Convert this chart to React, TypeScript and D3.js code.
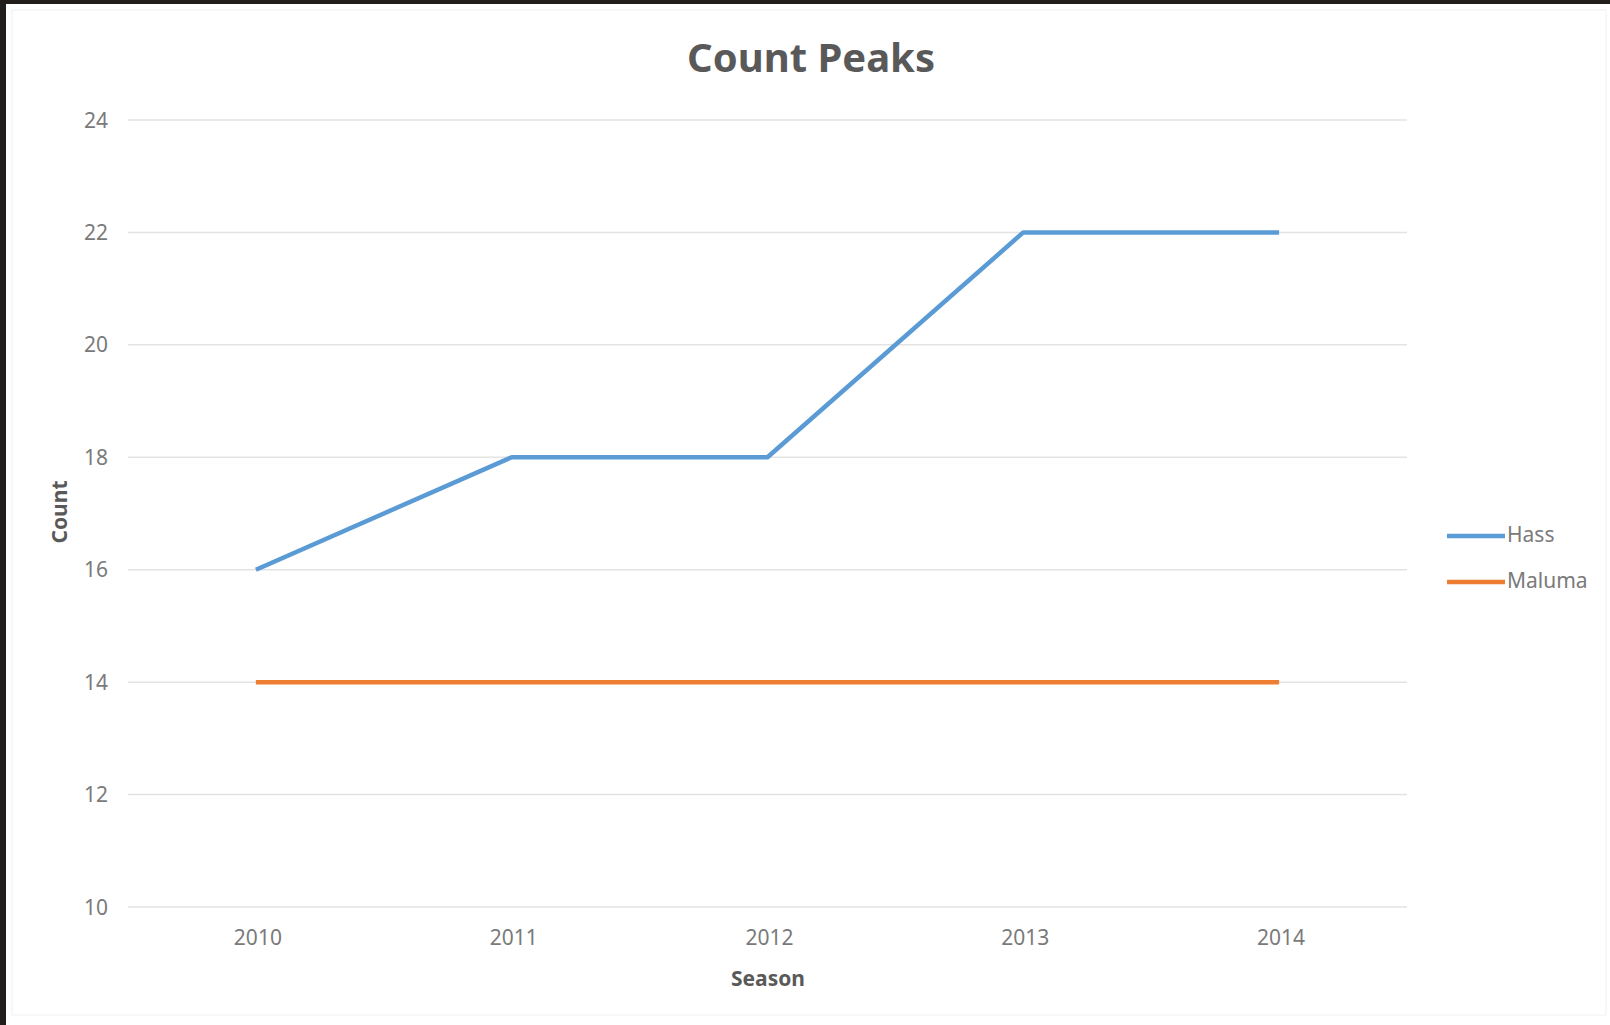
import React, { useEffect, useRef } from 'react';
import * as d3 from 'd3';

const seasons = ['2010', '2011', '2012', '2013', '2014'];
const hass = [16, 18, 18, 22, 22];
const maluma = [14, 14, 14, 14, 14];
const yTicks = [10, 12, 14, 16, 18, 20, 22, 24];
const seriesNames = ['Hass', 'Maluma'];
const seriesColors = ['#5b9bd5', '#ed7d31'];

const W = 1610;
const H = 1025;
const FONT = '"Noto Sans", "Open Sans", sans-serif';

const App: React.FC = () => {
  const svgRef = useRef<SVGSVGElement>(null);

  useEffect(() => {
    if (!svgRef.current) return;
    const svg = d3.select(svgRef.current);
    svg.selectAll('*').remove();

    // screenshot frame
    svg.append('rect').attr('width', W).attr('height', H).attr('fill', '#221e1b');
    svg.append('rect')
      .attr('x', 6).attr('y', 4)
      .attr('width', W - 6).attr('height', H - 4)
      .attr('fill', '#ffffff');
    svg.append('rect')
      .attr('x', 12).attr('y', 10)
      .attr('width', W - 16).attr('height', 1005)
      .attr('fill', 'none')
      .attr('stroke', '#f0f0f0')
      .attr('stroke-width', 1);

    const left = 128, right = 1407, top = 120, bottom = 907;

    const x = d3.scalePoint<string>().domain(seasons).range([left, right]).padding(0.5);
    const y = d3.scaleLinear().domain([10, 24]).range([bottom, top]);

    // gridlines
    svg.append('g')
      .selectAll('line')
      .data(yTicks)
      .enter()
      .append('line')
      .attr('x1', left).attr('x2', right)
      .attr('y1', d => y(d)).attr('y2', d => y(d))
      .attr('stroke', '#e3e3e3')
      .attr('stroke-width', 1.5);

    // y tick labels
    svg.append('g')
      .selectAll('text')
      .data(yTicks)
      .enter()
      .append('text')
      .attr('x', 108)
      .attr('y', d => y(d))
      .attr('dy', '0.36em')
      .attr('text-anchor', 'end')
      .style('font-family', FONT)
      .style('font-size', '21px')
      .style('fill', '#7a7a7a')
      .text(d => d);

    // x tick labels
    svg.append('g')
      .selectAll('text')
      .data(seasons)
      .enter()
      .append('text')
      .attr('x', d => (x(d) as number) + 2)
      .attr('y', 945)
      .attr('text-anchor', 'middle')
      .style('font-family', FONT)
      .style('font-size', '21px')
      .style('fill', '#7a7a7a')
      .text(d => d);

    // lines
    const line = d3.line<number>()
      .x((_d, i) => x(seasons[i]) as number)
      .y(d => y(d));

    [hass, maluma].forEach((series, i) => {
      svg.append('path')
        .datum(series)
        .attr('d', line)
        .attr('fill', 'none')
        .attr('stroke', seriesColors[i])
        .attr('stroke-width', 4.5)
        .attr('stroke-linejoin', 'round');
    });

    // title
    svg.append('text')
      .attr('x', 811)
      .attr('y', 72)
      .attr('text-anchor', 'middle')
      .style('font-family', FONT)
      .style('font-weight', 'bold')
      .style('font-size', '40px')
      .style('fill', '#595959')
      .text('Count Peaks');

    // axis titles
    svg.append('text')
      .attr('x', 768)
      .attr('y', 986)
      .attr('text-anchor', 'middle')
      .style('font-family', FONT)
      .style('font-weight', 'bold')
      .style('font-size', '21px')
      .style('fill', '#595959')
      .text('Season');

    svg.append('text')
      .attr('transform', 'translate(67,512) rotate(-90)')
      .attr('text-anchor', 'middle')
      .style('font-family', FONT)
      .style('font-weight', 'bold')
      .style('font-size', '21px')
      .style('fill', '#595959')
      .text('Count');

    // legend
    const legend = svg.append('g');
    seriesNames.forEach((name, i) => {
      const ly = 536 + i * 46;
      legend.append('line')
        .attr('x1', 1447).attr('x2', 1505)
        .attr('y1', ly).attr('y2', ly)
        .attr('stroke', seriesColors[i])
        .attr('stroke-width', 4.5);
      legend.append('text')
        .attr('x', 1507)
        .attr('y', ly - 2)
        .attr('dy', '0.36em')
        .style('font-family', FONT)
        .style('font-size', '21px')
        .style('fill', '#7a7a7a')
        .text(name);
    });
  }, []);

  return (
    <div style={{ position: 'fixed', left: 0, top: 0 }}>
      <svg ref={svgRef} width={W} height={H} style={{ display: 'block' }}></svg>
    </div>
  );
};

export default App;
